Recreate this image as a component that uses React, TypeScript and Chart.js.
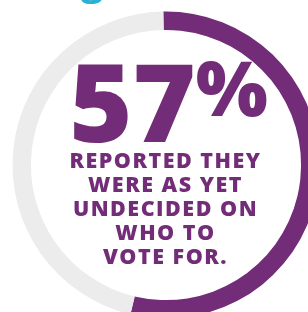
import React, { useEffect, useRef } from "react";
import { Chart, registerables } from "chart.js";

Chart.register(...registerables);

const categories = ["Undecided", "Decided"];
const values = [54, 46];
const colors = ["#722c78", "#ececec"];
const headline = "57";
const headlineSuffix = "%";
const captionLines = ["REPORTED THEY", "WERE AS YET", "UNDECIDED ON", "WHO TO", "VOTE FOR."];
const titleFragment = "g";

const PURPLE = "#722c78";
const FONT = "'Open Sans', 'Noto Sans', sans-serif";

export default function App() {
  const ref = useRef<HTMLCanvasElement | null>(null);

  useEffect(() => {
    if (!ref.current) return;
    const chart = new Chart(ref.current, {
      type: "doughnut",
      data: {
        labels: categories,
        datasets: [
          {
            data: values,
            backgroundColor: colors,
            borderWidth: 0,
          },
        ],
      },
      options: {
        responsive: false,
        animation: false,
        radius: 153.5,
        cutout: "88%",
        rotation: -1,
        layout: { padding: 0 },
        plugins: {
          legend: { display: false },
          tooltip: { enabled: false },
          title: { display: false },
        },
      } as any,
    });
    return () => chart.destroy();
  }, []);

  return (
    <div
      style={{
        position: "fixed",
        left: 0,
        top: 0,
        width: 308,
        height: 312,
        overflow: "hidden",
        background: "#ffffff",
      }}
    >
      <div style={{ position: "absolute", left: -4.5, top: -5.5, width: 340, height: 340 }}>
        <canvas ref={ref} width={340} height={340} style={{ width: 340, height: 340, display: "block" }} />
      </div>
      <div
        style={{
          position: "absolute",
          left: 81,
          top: -40,
          fontFamily: FONT,
          fontWeight: 700,
          fontSize: 40,
          lineHeight: "40px",
          color: "#2ab0d0",
        }}
      >
        {titleFragment}
      </div>
      <div
        style={{
          position: "absolute",
          left: 0,
          top: 47,
          width: 337,
          textAlign: "center",
          whiteSpace: "nowrap",
          fontFamily: FONT,
          fontWeight: 800,
          color: PURPLE,
        }}
      >
        <span style={{ fontSize: 108, lineHeight: "108px", letterSpacing: 0 }}>{headline}</span>
        <span
          style={{
            fontSize: 76,
            lineHeight: "76px",
            verticalAlign: "top",
            position: "relative",
            top: 2,
          }}
        >
          {headlineSuffix}
        </span>
      </div>
      <div
        style={{
          position: "absolute",
          left: 0,
          top: 148,
          width: 331,
          textAlign: "center",
          fontFamily: FONT,
          fontWeight: 800,
          fontSize: 21.5,
          lineHeight: "24px",
          letterSpacing: 1.5,
          color: PURPLE,
          whiteSpace: "nowrap",
        }}
      >
        {captionLines.map((l, i) => (
          <div key={i}>{l}</div>
        ))}
      </div>
    </div>
  );
}
